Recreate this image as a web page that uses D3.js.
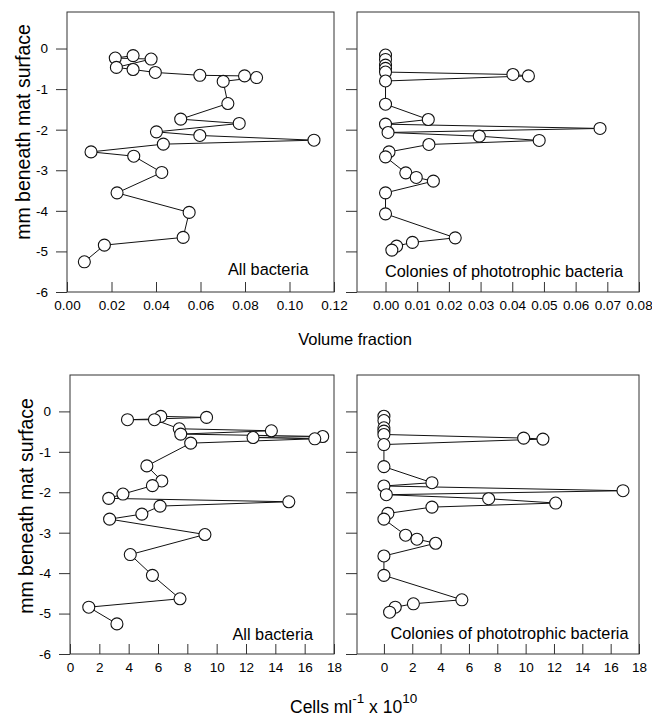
<!DOCTYPE html>
<html><head><meta charset="utf-8">
<script src="https://cdn.jsdelivr.net/npm/d3@7"></script>
<style>
body{margin:0;background:#fff}
svg{display:block;font-family:"Liberation Sans",Arial,sans-serif}
</style>
</head><body>
<svg id="chart" width="652" height="717"></svg>
<script>
// ---- data (depth in mm, negative = beneath surface) ----
const depthTicks = [0, -1, -2, -3, -4, -5, -6];
const volTicksAll = [0, 0.02, 0.04, 0.06, 0.08, 0.10, 0.12];
const volTicksCol = [0, 0.01, 0.02, 0.03, 0.04, 0.05, 0.06, 0.07, 0.08];
const cellTicks = [0, 2, 4, 6, 8, 10, 12, 14, 16, 18];

// Volume fraction, all bacteria
const allVolDepth = [-0.175,-0.235,-0.26,-0.465,-0.517,-0.59,-0.66,-0.675,-0.715,-0.81,-1.355,-1.741,-1.847,-2.054,-2.143,-2.259,-2.357,-2.547,-2.653,-3.054,-3.557,-4.039,-4.655,-4.845,-5.256];
const allVol = [0.0297,0.0217,0.0378,0.0222,0.0297,0.0397,0.0597,0.0798,0.0852,0.0702,0.0723,0.0511,0.0774,0.0402,0.0597,0.111,0.0433,0.0108,0.030,0.0426,0.0225,0.0549,0.0522,0.0168,0.0078];

// Volume fraction, colonies of phototrophic bacteria
const colVolDepth = [-0.16,-0.27,-0.41,-0.49,-0.58,-0.64,-0.675,-0.80,-1.372,-1.749,-1.864,-1.970,-2.069,-2.160,-2.266,-2.365,-2.547,-2.670,-3.064,-3.177,-3.268,-3.557,-4.074,-4.665,-4.778,-4.869,-4.968];
const colVol = [0,0,0,0,0,0.0402,0.0451,0,0,0.0135,0,0.0677,0.0008,0.0296,0.0485,0.0137,0.0011,0,0.0064,0.0097,0.0151,0,0,0.022,0.0085,0.0035,0.002];

// Cells ml-1 x 10^10, all bacteria
const allCellDepth = [-0.124,-0.149,-0.206,-0.206,-0.43,-0.479,-0.561,-0.621,-0.646,-0.678,-0.785,-1.348,-1.721,-1.837,-2.044,-2.151,-2.235,-2.342,-2.54,-2.665,-3.045,-3.541,-4.055,-4.634,-4.842,-5.255];
const allCell = [6.19,9.31,3.92,5.76,7.45,13.73,7.55,17.23,12.48,16.69,8.23,5.24,6.26,5.62,3.61,2.64,14.92,6.14,4.9,2.70,9.2,4.11,5.62,7.5,1.28,3.2];

// Cells ml-1 x 10^10, colonies of phototrophic bacteria
const colCellDepth = [-0.12,-0.226,-0.405,-0.487,-0.571,-0.66,-0.685,-0.82,-1.366,-1.763,-1.845,-1.962,-2.061,-2.160,-2.267,-2.367,-2.523,-2.665,-3.062,-3.161,-3.261,-3.576,-4.055,-4.659,-4.758,-4.842,-4.966];
const colCell = [0,0,0,0,0,9.86,11.22,0,0,3.39,0,16.87,0.17,7.39,12.12,3.39,0.28,0,1.53,2.33,3.65,0,0,5.5,2.08,0.8,0.4];

const panelLabels = ["All bacteria", "Colonies of phototrophic bacteria"];
const yTitle = "mm beneath mat surface";

// ---- layout ----
const FONT = "Liberation Sans, Arial, sans-serif";
const svg = d3.select("#chart");

const panels = [
  {xv: allVol, yv: allVolDepth, box: [67, 334, 12, 292], xDom: [0, 0.12], ticks: volTicksAll, fmt: d3.format(".2f"), yLab: 132, label: panelLabels[0], lx: 308.5, ly: 275},
  {xv: colVol, yv: colVolDepth, box: [357, 639, 12, 292], xDom: [-0.009, 0.08], ticks: volTicksCol, fmt: d3.format(".2f"), yLab: null, label: panelLabels[1], lx: 623, ly: 277},
  {xv: allCell, yv: allCellDepth, box: [70, 334, 375, 654], xDom: [0, 18], ticks: cellTicks, fmt: d3.format("d"), yLab: 506, label: panelLabels[0], lx: 313, ly: 640},
  {xv: colCell, yv: colCellDepth, box: [357, 639, 375, 654], xDom: [-1.9, 18], ticks: cellTicks, fmt: d3.format("d"), yLab: null, label: panelLabels[1], lx: 628.5, ly: 639}
];

panels.forEach(p => {
  const [x0, x1, y0, y1] = p.box;
  const x = d3.scaleLinear().domain(p.xDom).range([x0, x1]);
  const y = d3.scaleLinear().domain([0.9, -6]).range([y0, y1]);
  const g = svg.append("g");

  g.append("rect").attr("x", x0).attr("y", y0).attr("width", x1 - x0).attr("height", y1 - y0)
    .attr("fill", "none").attr("stroke", "#333").attr("stroke-width", 1);

  const xa = g.append("g").attr("transform", `translate(0,${y1})`)
    .call(d3.axisBottom(x).tickValues(p.ticks).tickFormat(p.fmt).tickSizeInner(-10).tickSizeOuter(0).tickPadding(8.3));
  xa.select(".domain").remove();
  xa.attr("font-family", FONT).attr("font-size", 13.5);
  xa.selectAll("line").attr("stroke", "#333");
  xa.selectAll("text").attr("fill", "#000");

  const ya = g.append("g").attr("transform", `translate(${x0},0)`)
    .call(d3.axisLeft(y).tickValues(depthTicks).tickFormat(p.yLab !== null ? (d => String(d)) : (() => "")).tickSizeInner(11).tickSizeOuter(0).tickPadding(8));
  ya.select(".domain").remove();
  ya.attr("font-family", FONT).attr("font-size", 13.5);
  ya.selectAll("line").attr("stroke", "#333");
  ya.selectAll("text").attr("fill", "#000");

  const pts = p.xv.map((v, i) => [v, p.yv[i]]);
  const line = d3.line().x(d => x(d[0])).y(d => y(d[1]));
  g.append("path").datum(pts).attr("d", line).attr("fill", "none").attr("stroke", "#111").attr("stroke-width", 1);

  g.selectAll("circle").data(pts).join("circle")
    .attr("cx", d => x(d[0])).attr("cy", d => y(d[1])).attr("r", 6)
    .attr("fill", "#fff").attr("stroke", "#111").attr("stroke-width", 1.1);

  g.append("text").attr("x", p.lx).attr("y", p.ly).attr("text-anchor", "end")
    .attr("font-size", 16.3).attr("fill", "#000").text(p.label);

  if (p.yLab !== null) {
    g.append("text").attr("transform", `translate(${x0 - 37},${p.yLab}) rotate(-90)`)
      .attr("text-anchor", "middle").attr("font-size", 19.5).attr("fill", "#000").text(yTitle);
  }
});

// x titles
svg.append("text").attr("x", 355).attr("y", 345).attr("text-anchor", "middle")
  .attr("font-size", 16.5).attr("fill", "#000").text("Volume fraction");

const ct = svg.append("text").attr("x", 290).attr("y", 713).attr("font-size", 17.5).attr("fill", "#000");
ct.append("tspan").text("Cells ml");
ct.append("tspan").attr("font-size", 13.5).attr("dy", -10).text("-1");
ct.append("tspan").attr("dy", 10).text(" x 10");
ct.append("tspan").attr("font-size", 13.5).attr("dy", -10).text("10");
</script>
</body></html>
